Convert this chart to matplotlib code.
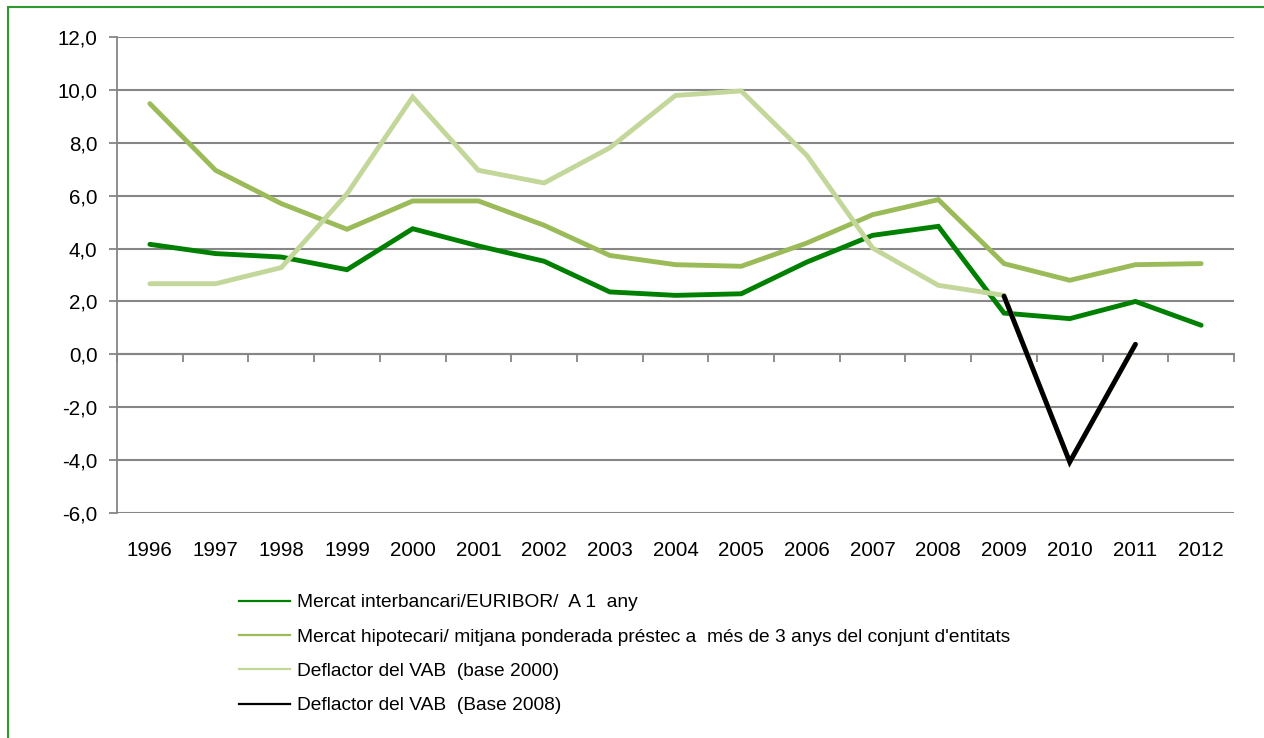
import numpy as np
import matplotlib
matplotlib.use("Agg")
from matplotlib import pyplot as plt
from matplotlib.lines import Line2D
from matplotlib.patches import Rectangle
import matplotlib.transforms as mtransforms

plt.rcParams['font.family'] = ['Liberation Sans', 'DejaVu Sans']

years = [str(y) for y in range(1996, 2013)]

euribor = [4.16, 3.81, 3.68, 3.20, 4.75, 4.10, 3.52, 2.36, 2.23, 2.29,
           3.49, 4.50, 4.84, 1.56, 1.35, 2.00, 1.10]
hipotecari = [9.48, 6.96, 5.70, 4.73, 5.80, 5.80, 4.88, 3.74, 3.39, 3.33,
              4.21, 5.28, 5.85, 3.43, 2.80, 3.39, 3.43]
vab_2000 = [2.67, 2.67, 3.28, 6.07, 9.73, 6.96, 6.48, 7.81, 9.79, 9.96,
            7.52, 4.02, 2.61, 2.23, -4.08, 0.38, np.nan]
vab_2008 = [np.nan] * 13 + [2.20, -4.07, 0.38, np.nan]

labels = ["Mercat interbancari/EURIBOR/  A 1  any",
          "Mercat hipotecari/ mitjana ponderada préstec a  més de 3 anys del conjunt d'entitats",
          "Deflactor del VAB  (base 2000)",
          "Deflactor del VAB  (Base 2008)"]
colors = ['#008000', '#9BBB59', '#C4D79B', '#000000']
series = [euribor, hipotecari, vab_2000, vab_2008]

fig = plt.figure(figsize=(12.64, 7.38), dpi=100)
ax = fig.add_axes([117 / 1264, 1 - 513 / 738, 1117 / 1264, 476 / 738])

x = np.arange(len(years))
for vals, c in zip(series, colors):
    ax.plot(x, vals, color=c, lw=3.5, solid_capstyle='round',
            solid_joinstyle='miter', zorder=3)

ax.set_xlim(-0.5, len(years) - 0.5)
ax.set_ylim(-6, 12)
ax.set_yticks(np.arange(-6, 13, 2))
ax.set_yticklabels([f"{v:.1f}".replace('.', ',') for v in np.arange(-6, 13, 2)])
ax.grid(axis='y', color='#868686', lw=1.5, zorder=1)
ax.tick_params(axis='y', length=6, width=1.3, color='#868686', pad=8,
               labelsize=14.8)

for s in ['top', 'right']:
    ax.spines[s].set_visible(False)
ax.spines['left'].set_color('#868686')
ax.spines['left'].set_linewidth(1.3)
ax.spines['bottom'].set_position(('data', 0))
ax.spines['bottom'].set_color('#868686')
ax.spines['bottom'].set_linewidth(1.5)

# tick marks at category boundaries, year labels sit under the plot
ax.set_xticks(np.arange(-0.5, len(years), 1))
ax.set_xticklabels([])
ax.tick_params(axis='x', length=6, width=1.3, color='#868686')
trans = mtransforms.blended_transform_factory(ax.transData, ax.transAxes)
for i, yr in enumerate(years):
    ax.text(i, -0.078, yr, transform=trans, ha='center', va='center',
            fontsize=14.8)

handles = [Line2D([], [], color=c, lw=1.6) for c in colors]
fig.legend(handles, labels, loc='upper left',
           bbox_to_anchor=(239 / 1264, 1 - 594 / 738), frameon=False,
           fontsize=13.8, handlelength=2.65, handletextpad=0.37,
           labelspacing=0.88, borderaxespad=0, borderpad=0)

fig.patches.append(Rectangle((8 / 1264, -0.1), 1.2, 1.1 - 7 / 738,
                             transform=fig.transFigure, fill=False,
                             edgecolor='#2E9A2E', lw=1.5))

fig.savefig("out.png", dpi=100)
